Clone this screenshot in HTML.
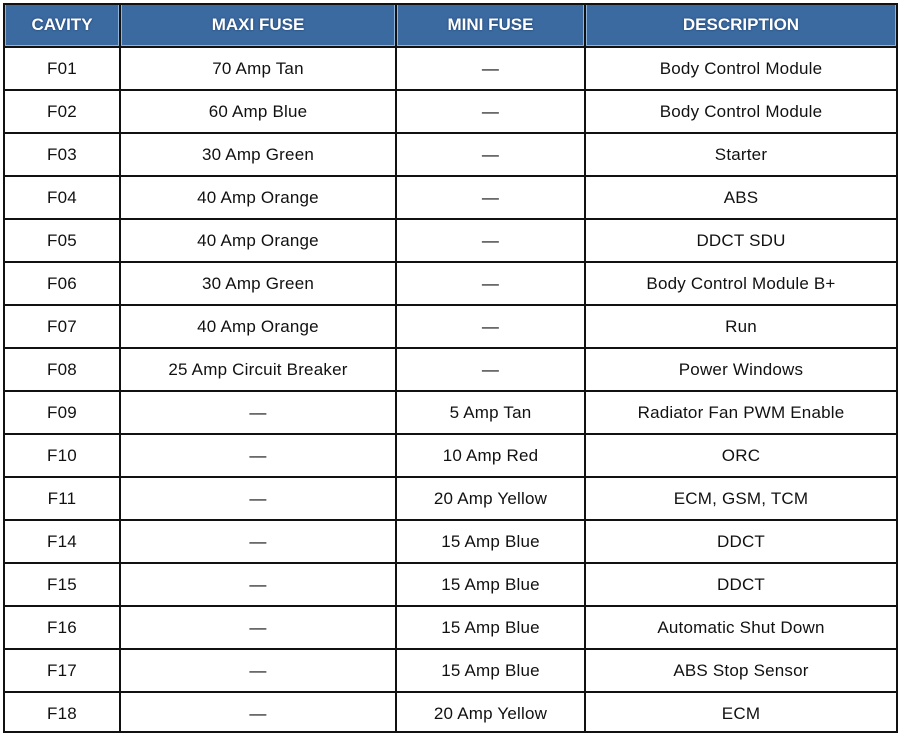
<!DOCTYPE html>
<html><head><meta charset="utf-8"><style>
body{margin:0;width:900px;height:734px;background:#fff;position:relative;overflow:hidden;font-family:"Liberation Sans",Arial,sans-serif}
.h{position:absolute;top:4px;height:42px;background:#3b6aa0;color:#fff;font-weight:bold;font-size:17px;display:flex;align-items:center;justify-content:center;box-sizing:border-box;border:1px solid #8fb4dc;text-shadow:0 0 2px #1a3a66}
.c{position:absolute;height:43px;display:flex;align-items:center;justify-content:center;font-size:17px;letter-spacing:0.2px;color:#111}
.vl{position:absolute;top:3px;width:2px;height:730px;background:#111}
.hl{position:absolute;left:3px;width:895px;height:2px;background:#111}
</style></head><body>
<div class="h" style="left:5px;width:114px">CAVITY</div>
<div class="h" style="left:121px;width:274px">MAXI FUSE</div>
<div class="h" style="left:397px;width:187px">MINI FUSE</div>
<div class="h" style="left:586px;width:310px">DESCRIPTION</div>
<div id="rows"></div>
<script>
var d=[["F01","70 Amp Tan","—","Body Control Module"],["F02","60 Amp Blue","—","Body Control Module"],["F03","30 Amp Green","—","Starter"],["F04","40 Amp Orange","—","ABS"],["F05","40 Amp Orange","—","DDCT SDU"],["F06","30 Amp Green","—","Body Control Module B+"],["F07","40 Amp Orange","—","Run"],["F08","25 Amp Circuit Breaker","—","Power Windows"],["F09","—","5 Amp Tan","Radiator Fan PWM Enable"],["F10","—","10 Amp Red","ORC"],["F11","—","20 Amp Yellow","ECM, GSM, TCM"],["F14","—","15 Amp Blue","DDCT"],["F15","—","15 Amp Blue","DDCT"],["F16","—","15 Amp Blue","Automatic Shut Down"],["F17","—","15 Amp Blue","ABS Stop Sensor"],["F18","—","20 Amp Yellow","ECM"]];
var xs=[4,120,396,585,897],h="";
for(var i=0;i<d.length;i++){var y=47+i*43;
for(var j=0;j<4;j++)h+='<div class="c" style="top:'+y+'px;left:'+xs[j]+'px;width:'+(xs[j+1]-xs[j])+'px">'+d[i][j]+'</div>';
h+='<div class="hl" style="top:'+(y-1)+'px"></div>';}
h+='<div class="hl" style="top:3px"></div><div class="hl" style="top:731px"></div>';
for(var j=0;j<5;j++)h+='<div class="vl" style="left:'+(xs[j]-1)+'px"></div>';
document.getElementById("rows").innerHTML=h;
</script>
</body></html>
